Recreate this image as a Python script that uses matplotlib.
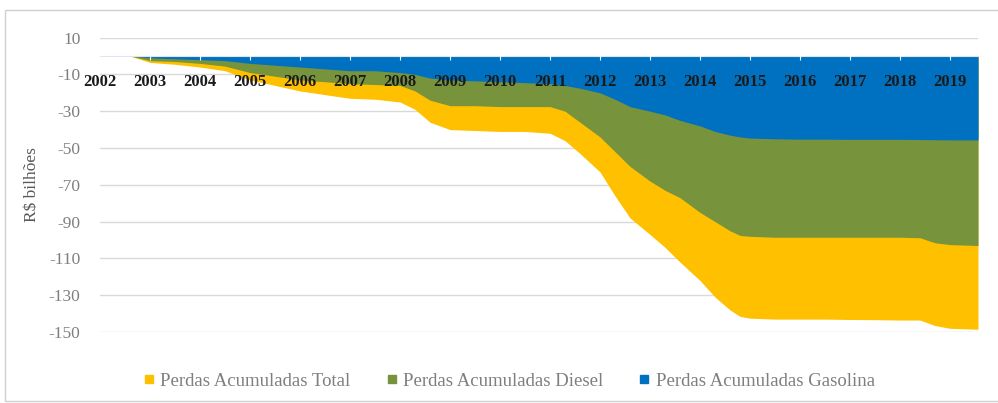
import matplotlib.pyplot as plt
from matplotlib.lines import Line2D
from matplotlib.patches import Rectangle

# cumulative losses, R$ billions
anos = [2002.6, 2003.0, 2003.5, 2004.0, 2004.5, 2005.0, 2005.5, 2006.0, 2006.5,
        2007.0, 2007.5, 2008.0, 2008.3, 2008.6, 2009.0, 2009.5, 2010.0, 2010.5,
        2011.0, 2011.3, 2011.6, 2012.0, 2012.3, 2012.6, 2013.0, 2013.3, 2013.6,
        2014.0, 2014.3, 2014.6, 2014.8, 2015.0, 2015.5, 2016.0, 2016.5, 2017.0,
        2017.5, 2018.0, 2018.4, 2018.7, 2019.0, 2019.56]
total = [0, -3.5, -4.5, -6, -8, -13, -16, -19, -21,
         -23, -23.5, -25, -29, -36, -40, -40.5, -41, -41,
         -42, -46, -53, -63, -76, -88, -97, -104, -112,
         -122, -131, -138, -141.5, -142.5, -143, -143, -143, -143.2,
         -143.3, -143.5, -143.5, -146.5, -148, -148.5]
diesel = [0, -2.5, -3, -4, -5.5, -9, -11, -13, -14,
          -15, -15.5, -16, -19, -24, -27, -27, -27.5, -27.5,
          -27.5, -30, -36, -44, -52, -60, -68, -73, -77,
          -85, -90, -95, -97.5, -98, -98.5, -98.5, -98.5, -98.5,
          -98.5, -98.5, -98.8, -101.5, -102.5, -103]
gasolina = [0, -1, -1.5, -2, -2.5, -4, -5, -6, -7,
            -8, -8, -9, -10, -12, -13, -13.5, -14, -14.5,
            -15, -16, -17.5, -20, -23.5, -27.5, -30, -32, -35,
            -38, -41, -43, -44, -44.6, -45, -45.2, -45.2, -45.3,
            -45.3, -45.3, -45.4, -45.5, -45.6, -45.6]

rotulos_anos = list(range(2002, 2020))
yticks = [10, -10, -30, -50, -70, -90, -110, -130, -150]

cor_total = "#FFC000"
cor_diesel = "#77933C"
cor_gasolina = "#0070C0"
serif = ["Liberation Serif", "DejaVu Serif"]
plt.rcParams["font.family"] = serif

fig = plt.figure(figsize=(9.98, 4.03), dpi=100)
ax = fig.add_axes([100 / 998, 1 - 332 / 403, 878 / 998, (332 - 37.6) / 403])

ax.fill_between(anos, total, 0, color=cor_total, lw=0, zorder=2)
ax.fill_between(anos, diesel, 0, color=cor_diesel, lw=0, zorder=3)
ax.fill_between(anos, gasolina, 0, color=cor_gasolina, lw=0, zorder=4)

# axis line at zero first (moving the spine resets the tick labels)
for s in ["top", "right", "left"]:
    ax.spines[s].set_visible(False)
ax.spines["bottom"].set_position(("data", 0))
ax.spines["bottom"].set_color("#dce6f2")
ax.spines["bottom"].set_zorder(5)

ax.set_xlim(2002, 2019.56)
ax.set_ylim(-150, 10)
ax.set_yticks(yticks)
ax.set_yticklabels([str(v) for v in yticks], fontsize=12.5, color="#7f7f7f")
ax.set_xticks(rotulos_anos)
ax.set_xticklabels([str(a) for a in rotulos_anos], fontsize=12,
                   color="#1a1a1a", fontweight="bold")
ax.grid(axis="y", color="#d9d9d9", lw=1)
ax.set_axisbelow(True)
ax.xaxis.set_zorder(6)

ax.tick_params(axis="x", color="white", length=3, direction="out", pad=10)
ax.tick_params(axis="y", length=0, pad=14)

ax.set_ylabel("R$ bilhões", fontsize=12.5, color="#595959", labelpad=6)

handles = [Line2D([], [], marker="s", ls="", color=c, markersize=6)
           for c in [cor_total, cor_diesel, cor_gasolina]]
leg = fig.legend(handles, ["Perdas Acumuladas Total", "Perdas Acumuladas Diesel",
                           "Perdas Acumuladas Gasolina"],
                 loc="center", bbox_to_anchor=(0.51, 1 - 381 / 403), ncol=3, frameon=False,
                 fontsize=13.5, labelcolor="#7f7f7f",
                 handlelength=0.6, handletextpad=0.3, columnspacing=1.9)

fig.patches.append(Rectangle((5 / 998, 2 / 403), 1.2, 1 - 12 / 403,
                             transform=fig.transFigure, fill=False,
                             edgecolor="#d0d0d0", lw=1))

fig.savefig("out.png", dpi=100)
